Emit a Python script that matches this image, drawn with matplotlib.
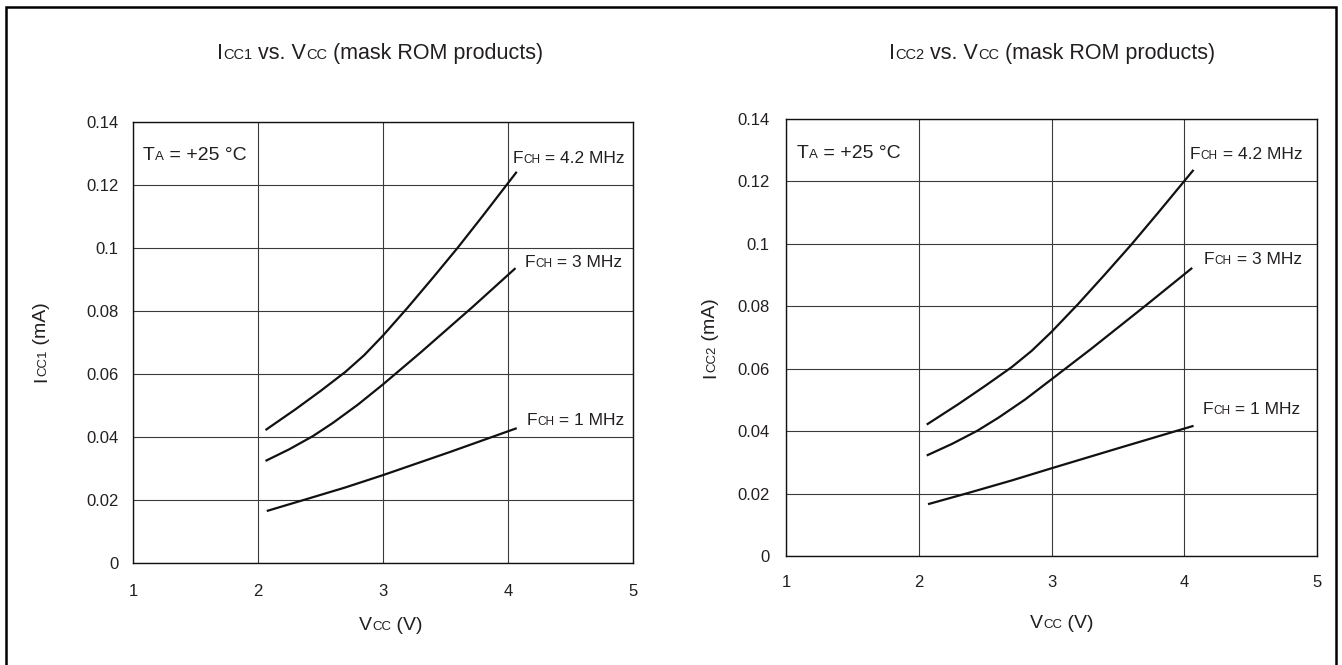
import matplotlib
matplotlib.use('Agg')
import matplotlib.pyplot as plt
from matplotlib.transforms import ScaledTranslation
from matplotlib.lines import Line2D

plt.rcParams['font.family'] = ['Liberation Sans', 'DejaVu Sans']

W, H, DPI = 1342, 665, 100
TXT = '#231f20'
TICK = 12

# ---------------- data ----------------
vcc_ticks = [1, 2, 3, 4, 5]
vcc_tick_labels = ['1', '2', '3', '4', '5']
icc_ticks = [0, 0.02, 0.04, 0.06, 0.08, 0.10, 0.12, 0.14]
icc_tick_labels = ['0', '0.02', '0.04', '0.06', '0.08', '0.1', '0.12', '0.14']

# ICC1 (left panel)
vcc1_42 = [2.06, 2.30, 2.50, 2.70, 2.85, 3.00, 3.20, 3.40, 3.60, 3.80, 4.07]
icc1_42 = [0.0422, 0.0488, 0.0546, 0.0607, 0.0660, 0.0722, 0.0812, 0.0906, 0.1002, 0.1103, 0.1242]
vcc1_3 = [2.06, 2.25, 2.44, 2.60, 2.80, 3.00, 3.30, 3.72, 4.06]
icc1_3 = [0.0324, 0.0361, 0.0403, 0.0445, 0.0503, 0.0567, 0.0668, 0.0814, 0.0936]
vcc1_1 = [2.07, 2.39, 2.70, 3.00, 3.54, 4.07]
icc1_1 = [0.0165, 0.0203, 0.0240, 0.0279, 0.0353, 0.0428]

# ICC2 (right panel)
vcc2_42 = [2.06, 2.30, 2.50, 2.70, 2.85, 3.00, 3.20, 3.40, 3.60, 3.80, 4.07]
icc2_42 = [0.0421, 0.0487, 0.0545, 0.0605, 0.0657, 0.0718, 0.0807, 0.0901, 0.0997, 0.1098, 0.1237]
vcc2_3 = [2.06, 2.25, 2.44, 2.60, 2.80, 3.00, 3.30, 3.72, 4.06]
icc2_3 = [0.0322, 0.0359, 0.0401, 0.0443, 0.0501, 0.0566, 0.0664, 0.0806, 0.0923]
vcc2_1 = [2.07, 2.39, 2.70, 3.00, 3.54, 4.07]
icc2_1 = [0.0166, 0.0204, 0.0242, 0.0281, 0.0350, 0.0417]

fig = plt.figure(figsize=(W / DPI, H / DPI), dpi=DPI)
fig.patch.set_facecolor('white')
renderer = fig.canvas.get_renderer()


def px(x, y):
    return x / W, 1 - y / H


def rich(x, y, pieces, ha='left', rotation=0):
    """Draw text made of pieces of different sizes on one baseline.
    x, y: pixel position (from top-left) of the baseline anchor."""
    widths = []
    for s, fs in pieces:
        t = fig.text(0, 0, s, fontsize=fs)
        widths.append(t.get_window_extent(renderer).width)
        t.remove()
    total = sum(widths)
    off = {'left': 0, 'center': -total / 2, 'right': -total}[ha]
    fx, fy = px(x, y)
    for (s, fs), w in zip(pieces, widths):
        dx, dy = (0, off) if rotation == 90 else (off, 0)
        tr = fig.transFigure + ScaledTranslation(dx / DPI, dy / DPI, fig.dpi_scale_trans)
        fig.text(fx, fy, s, fontsize=fs, transform=tr, ha='left', va='baseline',
                 rotation=rotation, rotation_mode='anchor', color=TXT)
        off += w


def make_ax(x0, y0, x1, y1, xpad, ypad):
    ax = fig.add_axes([x0 / W, 1 - y1 / H, (x1 - x0) / W, (y1 - y0) / H])
    ax.set_xlim(1, 5)
    ax.set_ylim(0, 0.14)
    ax.set_xticks(vcc_ticks)
    ax.set_xticklabels(vcc_tick_labels)
    ax.set_yticks(icc_ticks)
    ax.set_yticklabels(icc_tick_labels)
    ax.tick_params(length=0, labelsize=TICK, colors=TXT)
    ax.tick_params(axis='x', pad=xpad)
    ax.tick_params(axis='y', pad=ypad)
    ax.grid(True, color='#3a3a3a', lw=0.8)
    ax.set_axisbelow(True)
    for sp in ax.spines.values():
        sp.set_color('#111111')
        sp.set_linewidth(1.0)
    return ax


# left panel
axL = make_ax(133, 122, 633, 563, xpad=15, ypad=10.5)
for xs, ys in [(vcc1_42, icc1_42), (vcc1_3, icc1_3), (vcc1_1, icc1_1)]:
    axL.plot(xs, ys, color='#111111', lw=1.6, solid_capstyle='butt')

# right panel
axR = make_ax(786, 119, 1317, 556, xpad=13.5, ypad=12)
for xs, ys in [(vcc2_42, icc2_42), (vcc2_3, icc2_3), (vcc2_1, icc2_1)]:
    axR.plot(xs, ys, color='#111111', lw=1.6, solid_capstyle='butt')

# titles
T_BIG, T_SM = 15.5, 10.5
rich(380, 59, [('I', T_BIG), ('CC1', T_SM), (' vs. V', T_BIG), ('CC', T_SM),
               (' (mask ROM products)', T_BIG)], ha='center')
rich(1052, 59, [('I', T_BIG), ('CC2', T_SM), (' vs. V', T_BIG), ('CC', T_SM),
                (' (mask ROM products)', T_BIG)], ha='center')

# axis labels
L_BIG, L_SM = 14, 9.5
rich(391, 630, [('V', L_BIG), ('CC', L_SM), (' (V)', L_BIG)], ha='center')
rich(1062, 628, [('V', L_BIG), ('CC', L_SM), (' (V)', L_BIG)], ha='center')
rich(46, 342, [('I', L_BIG), ('CC1', L_SM), (' (mA)', L_BIG)], ha='center', rotation=90)
rich(715, 338, [('I', L_BIG), ('CC2', L_SM), (' (mA)', L_BIG)], ha='center', rotation=90)

# annotations
A_BIG, A_SM = 14, 9.5
F_BIG, F_SM = 12.5, 8.5
rich(143, 160, [('T', A_BIG), ('A', A_SM), (' = +25 °C', A_BIG)])
rich(513, 163, [('F', F_BIG), ('CH', F_SM), (' = 4.2 MHz', F_BIG)])
rich(525, 267, [('F', F_BIG), ('CH', F_SM), (' = 3 MHz', F_BIG)])
rich(527, 425, [('F', F_BIG), ('CH', F_SM), (' = 1 MHz', F_BIG)])

rich(797, 158, [('T', A_BIG), ('A', A_SM), (' = +25 °C', A_BIG)])
rich(1190, 159, [('F', F_BIG), ('CH', F_SM), (' = 4.2 MHz', F_BIG)])
rich(1204, 264, [('F', F_BIG), ('CH', F_SM), (' = 3 MHz', F_BIG)])
rich(1203, 414, [('F', F_BIG), ('CH', F_SM), (' = 1 MHz', F_BIG)])

# outer frame (open at the bottom)
xs = [6 / W, 6 / W, 1336 / W, 1336 / W]
ys = [-0.01, 1 - 6.5 / H, 1 - 6.5 / H, -0.01]
fig.add_artist(Line2D(xs, ys, transform=fig.transFigure, color='black', lw=1.8,
                      solid_joinstyle='miter'))

fig.savefig('out.png', dpi=DPI)
